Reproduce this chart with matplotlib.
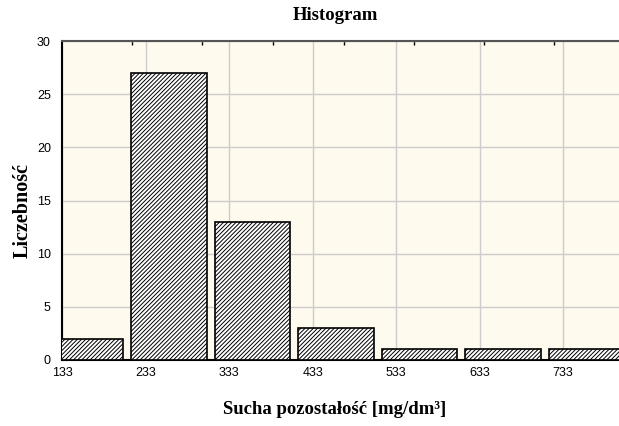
import matplotlib
matplotlib.use("Agg")
import matplotlib.pyplot as plt
import numpy as np

# Data
bin_centers = [161, 261, 361, 461, 561, 661, 761]
counts = [2, 27, 13, 3, 1, 1, 1]
bar_width = 90
x_ticks = [133, 233, 333, 433, 533, 633, 733]
y_ticks = [0, 5, 10, 15, 20, 25, 30]
top_minor = [217, 301, 386, 470, 554, 638, 722]

plt.rcParams['hatch.linewidth'] = 0.7
plt.rcParams['hatch.color'] = '#222222'

serif = ['Liberation Serif', 'DejaVu Serif']
sans = ['Liberation Sans', 'DejaVu Sans']

fig = plt.figure(figsize=(6.19, 4.26), dpi=100)
ax = fig.add_axes([62/619, 1 - 360/426, 558/619, 319/426])
ax.set_facecolor('#fffaee')

ax.bar(bin_centers, counts, width=bar_width, facecolor='white', edgecolor='black',
       linewidth=1.2, hatch='////////', zorder=3)

ax.set_xlim(133, 801)
ax.set_ylim(0, 30)
ax.set_xticks(x_ticks)
ax.set_yticks(y_ticks)
ax.grid(True, color='#cccccc', linewidth=1.0, zorder=0)
ax.set_axisbelow(True)

ax.tick_params(axis='both', length=0, labelsize=9, labelcolor='black')
ax.tick_params(axis='x', pad=5)
ax.tick_params(axis='y', pad=8)
for lbl in ax.get_xticklabels() + ax.get_yticklabels():
    lbl.set_family(sans)

ax.spines['right'].set_visible(False)
ax.spines['left'].set_linewidth(1.5)
ax.spines['bottom'].set_linewidth(1.5)
ax.spines['top'].set_linewidth(1.5)
ax.spines['top'].set_color('#555555')

sec = ax.secondary_xaxis('top')
sec.set_xticks(top_minor)
sec.set_xticklabels([])
sec.tick_params(length=3, width=1, direction='in', color='black')
sec.spines['top'].set_visible(False)

fig.text(335/619, 1 - 20/426, 'Histogram', fontsize=13.5, fontweight='bold',
         family=serif, ha='center', va='baseline')
fig.text(335/619, 1 - 410/426, 'Sucha pozostałość [mg/dm³]', fontsize=13.5,
         fontweight='bold', family=serif, ha='center', va='center')
fig.text(23/619, 1 - 210/426, 'Liczebność', fontsize=14.5, fontweight='bold',
         family=serif, ha='center', va='center', rotation=90)

fig.savefig('out.png', dpi=100)
